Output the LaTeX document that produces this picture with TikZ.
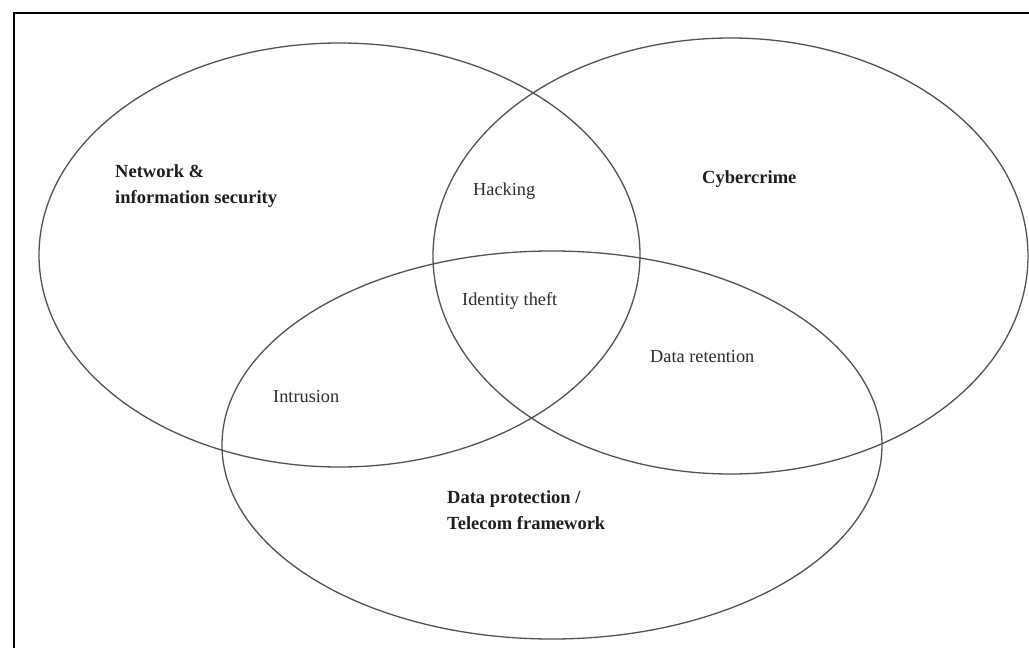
\documentclass[tikz,border=0pt]{standalone}
\usepackage{fontspec}
\setmainfont{Liberation Serif}
\begin{document}
\begin{tikzpicture}[x=1pt,y=-1pt,
  setline/.style={draw=black!68, line width=1.3pt},
  frameline/.style={draw=black, line width=2.2pt},
  setname/.style={anchor=base west, inner sep=0pt, align=left,
    font=\fontsize{18.5}{26}\selectfont\bfseries, text=black!88},
  itemname/.style={anchor=base west, inner sep=0pt,
    font=\fontsize{18.3}{24}\selectfont, text=black!82}]
  \useasboundingbox (0,0) rectangle (1029,648);
  \fill[white] (0,0) rectangle (1029,648);
  % outer frame (open to the right and bottom)
  \draw[frameline] (14,648) |- (1029,13);

  % the three sets
  \draw[setline] (339.5,255) ellipse [x radius=300.5pt, y radius=212pt];
  \draw[setline] (730.5,256) ellipse [x radius=297.5pt, y radius=218pt];
  \draw[setline] (552,445) ellipse [x radius=330pt, y radius=194pt];

  % set names (two-line names are placed by their last baseline)
  \node[setname] (netsec) at (115,203) {Network \&\\information security};
  \node[setname] (cyber) at (702,183) {Cybercrime};
  \node[setname] (dataprot) at (447,529) {Data protection /\\Telecom framework};

  % overlaps
  \node[itemname] (hack) at (473,195) {Hacking};
  \node[itemname] (idtheft) at (462,305) {Identity theft};
  \node[itemname] (intrusion) at (273,402) {Intrusion};
  \node[itemname] (retention) at (650,362) {Data retention};
\end{tikzpicture}
\end{document}
